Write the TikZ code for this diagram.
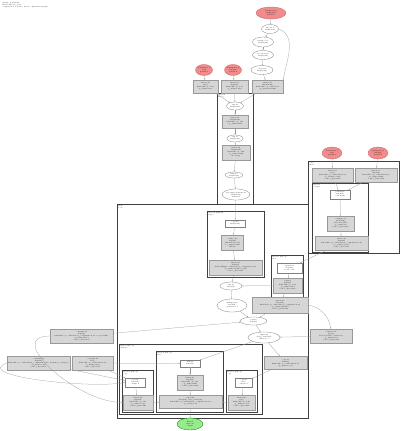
\documentclass[tikz,border=0pt]{standalone}
\usepackage{tikz}
\usetikzlibrary{arrows.meta,positioning,shapes.geometric}
\definecolor{pmfill}{RGB}{240,140,140}
\definecolor{pmline}{RGB}{205,92,92}
\definecolor{fufill}{RGB}{214,214,214}
\definecolor{rtfill}{RGB}{150,235,140}
\begin{document}
\begin{tikzpicture}[x=1pt,y=-1pt,
    every node/.style={font=\fontsize{1.6}{2}\selectfont, align=center, inner sep=0pt},
    pm/.style={ellipse, draw=pmline, fill=pmfill, line width=0.3pt},
    op/.style={ellipse, draw=gray, fill=white, line width=0.3pt},
    fu/.style={rectangle, draw=gray!80, fill=fufill, line width=0.3pt},
    wt/.style={rectangle, draw=gray, fill=white, line width=0.3pt},
    rt/.style={ellipse, draw=green!50!black, fill=rtfill, line width=0.3pt},
    cl/.style={draw=black!75, line width=0.7pt},
    cll/.style={anchor=north west, align=left, font=\fontsize{1.5}{1.9}\selectfont},
    ed/.style={-{Stealth[length=1.4pt,width=1.1pt]}, draw=gray!80, line width=0.25pt},
  ]
  \useasboundingbox (0,0) rectangle (400,431);
  \node[anchor=north west, align=left] (title) at (2,2) {cluster\_0 main.42\\HloModule jit\_step\\compiled for 1 device, fused computation graph};

  % clusters
  \draw[cl] (217,93) rectangle (253,204);
  \node[cll] (lc1) at (218,94) {fusion.9\\kLoop};
  \draw[cl] (117,204) rectangle (308,418);
  \node[cll] (lc2) at (118,205) {while\\body};
  \draw[cl] (207,211) rectangle (264,277);
  \node[cll] (lc3) at (208,212) {fusion.6 (kInput)\\reduce};
  \draw[cl] (271,255) rectangle (303,297);
  \node[cll] (lc4) at (272,256) {fusion.5 (kLoop)\\add};
  \draw[cl] (308,161) rectangle (399,253);
  \node[cll] (lc5) at (309,162) {cond\\while};
  \draw[cl] (312,183) rectangle (368,252);
  \node[cll] (lc6) at (313,184) {fusion.7\\compare};
  \draw[cl] (119,344) rectangle (262,414);
  \node[cll] (lc7) at (120,345) {tuple.3 (kLoop)\\outputs};
  \draw[cl] (122,370) rectangle (153,412);
  \node[cll] (lc8) at (123,371) {fusion.1 (kLoop)\\copy};
  \draw[cl] (156,351) rectangle (223,412);
  \node[cll] (lc9) at (157,352) {fusion.2 (kLoop)\\mul};
  \draw[cl] (226,370) rectangle (257,412);
  \node[cll] (lc10) at (227,371) {fusion.3 (kLoop)\\copy};

  % top chain
  \node[pm, minimum width=30, minimum height=12] (p0) at (271,13) {Parameter 0\\f32[64,256]\\param.0};
  \node[op, minimum width=17, minimum height=9] (e1) at (270,29) {bitcast.1\\f32[64,256]};
  \node[op, minimum width=21, minimum height=10] (e2) at (263,42) {transpose.2\\f32[256,64]};
  \node[op, minimum width=21, minimum height=9] (e3) at (263,55) {broadcast.3\\f32[256,64]};
  \node[op, minimum width=22, minimum height=9] (e4) at (262,70) {convert.4\\f32[256,64]};
  \node[pm, minimum width=17, minimum height=11] (r1) at (204,70) {Parameter 1\\s32[]\\param.1};
  \node[pm, minimum width=17, minimum height=11] (r2) at (233,70) {Parameter 2\\f32[256]\\param.2};
  \node[fu, minimum width=25, minimum height=13] (b1) at (205.5,86.5) {fusion.10\\s32[]\\kind=kLoop, f.10\\op\_name=iter};
  \node[fu, minimum width=27, minimum height=13] (b2) at (234.5,86.5) {fusion.11\\f32[256]\\kind=kLoop, f.11\\op\_name=bias};
  \node[fu, minimum width=31, minimum height=13] (b3) at (267.5,86.5) {fusion.12\\f32[256,64]\\kind=kLoop, calls=f.12\\op\_name=weight};

  % tall cluster
  \node[op, minimum width=17, minimum height=8] (t1) at (235,106) {add.13\\f32[256,64]};
  \node[fu, minimum width=26, minimum height=13] (t2) at (235,121.5) {fusion.14\\f32[256,64]\\kind=kLoop, f.14\\op\_name=mul};
  \node[op, minimum width=16, minimum height=7] (t3) at (235,138.5) {exp.15\\f32[256,64]};
  \node[fu, minimum width=28, minimum height=15] (t4) at (236,152.5) {fusion.16\\f32[256,64]\\kind=kLoop, f.16\\op\_name=tanh\\model.py};
  \node[op, minimum width=18, minimum height=6] (t5) at (234,175) {tanh.17\\f32[256,64]};
  \node[op, minimum width=28, minimum height=11] (t6) at (236,194.5) {get-tuple-element.18\\f32[256,64]\\index=0};

  % big cluster
  \node[wt, minimum width=20, minimum height=7] (w1) at (235,223.5) {copy.19\\f32[256,64]};
  \node[fu, minimum width=22, minimum height=15] (g1) at (232.5,242.5) {reduce.20\\f32[256]\\dimensions=\{1\}\\to\_apply=sum\\init=0};
  \node[fu, minimum width=53, minimum height=15] (g2) at (235.5,267.5) {fusion.22\\f32[256]\\kind=kInput, calls=fused\_computation.22\\op\_name=reduce\_sum\\source\_line=118};
  \node[wt, minimum width=25, minimum height=10] (w2) at (289.5,268) {param.23\\f32[256]\\from cond};
  \node[fu, minimum width=29, minimum height=15] (g3) at (287.5,285.5) {add.24\\f32[256]\\kind=kLoop, f.24\\op\_name=add\\source\_line=121};
  \node[op, minimum width=22, minimum height=8] (m1) at (231,286) {sub.25\\f32[256]};
  \node[op, minimum width=30, minimum height=13] (m2) at (232,305.5) {multiply.26\\f32[256]\\operand 0, 1};
  \node[fu, minimum width=56, minimum height=16] (g4) at (280,305) {fusion.27\\f32[256]\\kind=kLoop, calls=fused\_computation.27\\op\_name=update\\source\_line=124};
  \node[op, minimum width=27, minimum height=8] (m3) at (253.5,321) {add.28\\f32[256]};
  \node[op, minimum width=32, minimum height=11] (m4) at (264,337.5) {tuple.29\\(s32[], f32[256])\\index 0, 1};
  \node[fu, minimum width=43, minimum height=13] (g5) at (285.5,363) {copy.30\\f32[256]\\kind=kLoop, calls=fused.30\\op\_name=copy};
  \node[fu, minimum width=42, minimum height=14] (g6) at (331,336) {compare.31\\pred[]\\direction=LT, calls=f.31\\op\_name=less\\source\_line=130};

  % right cluster
  \node[pm, minimum width=20, minimum height=12] (rr1) at (332,153) {Parameter 3\\s32[]\\param.3};
  \node[pm, minimum width=20, minimum height=12] (rr2) at (378,153) {Parameter 4\\f32[256]\\param.4};
  \node[fu, minimum width=41, minimum height=14] (rb1) at (332.5,175) {fusion.32\\s32[]\\kind=kLoop, calls=fused.32\\op\_name=count\\source\_line=140};
  \node[fu, minimum width=42, minimum height=14] (rb2) at (376,175) {fusion.33\\f32[256]\\kind=kLoop, calls=fused.33\\op\_name=limit\\source\_line=141};
  \node[wt, minimum width=20, minimum height=9] (rw) at (340,194.5) {param.34\\f32[256]\\cond input};
  \node[fu, minimum width=27, minimum height=15] (rg1) at (340.5,223.5) {compare.35\\pred[256]\\direction=LT\\op\_name=lt\\source\_line=143};
  \node[fu, minimum width=53, minimum height=14] (rg2) at (341.5,243) {fusion.36\\f32[256]\\kind=kLoop, calls=fused\_computation.36\\op\_name=select\\source\_line=145};

  % left boxes
  \node[fu, minimum width=63, minimum height=14] (L1) at (81.5,336) {constant.37\\f32[256]\\kind=kLoop, calls=fused\_computation.37, scope=while\\op\_name=zeros\\source\_line=150};
  \node[fu, minimum width=63, minimum height=14] (L2) at (38.5,363) {constant.38\\f32[256]\\kind=kLoop, calls=fused\_computation.38, backend\_config=\{\}\\op\_name=ones\\source\_line=151};
  \node[fu, minimum width=41, minimum height=14] (L3) at (92.5,363) {constant.39\\s32[]\\kind=kLoop, calls=fused.39\\op\_name=step\\source\_line=152};

  % bottom cluster
  \node[wt, minimum width=20, minimum height=9] (lw) at (135,382.5) {copy.40\\f32[256]\\output 0};
  \node[fu, minimum width=30, minimum height=15] (lg) at (138,402.5) {fusion.41\\f32[256]\\kind=kLoop, f.41\\op\_name=copy\\source\_line=160};
  \node[wt, minimum width=20, minimum height=7] (mw) at (190,363.5) {mul.42\\f32[256]};
  \node[fu, minimum width=26, minimum height=15] (mg) at (190,382.5) {fusion.43\\f32[256]\\kind=kLoop, f.43\\op\_name=mul\\source\_line=162};
  \node[fu, minimum width=63, minimum height=13] (mwg) at (190.5,401.5) {tuple.44\\(f32[256], s32[], f32[256])\\kind=kLoop, calls=fused\_computation.44\\op\_name=out};
  \node[wt, minimum width=17, minimum height=9] (rw2) at (243.5,382.5) {copy.45\\s32[]\\output 1};
  \node[fu, minimum width=27, minimum height=15] (rg3) at (241.5,402.5) {fusion.46\\s32[]\\kind=kLoop, f.46\\op\_name=copy\\source\_line=165};
  \node[rt, minimum width=26, minimum height=12] (root) at (190,424) {ROOT\\tuple.47\\output};

  % edges
  \draw[ed] (p0) -- (e1);
  \draw[ed] (e1) -- (e2);
  \draw[ed] (e2) -- (e3);
  \draw[ed] (e3) -- (e4);
  \draw[ed] (e4) -- (b3);
  \draw[ed] (e1.east) to[out=-20,in=80] (b3.north east);
  \draw[ed] (r1) -- (b1);
  \draw[ed] (r2) -- (b2);
  \draw[ed] (b1) -- (t1);
  \draw[ed] (b2) -- (t1);
  \draw[ed] (b3) -- (t1);
  \draw[ed] (t1) -- (t2);
  \draw[ed] (t2) -- (t3);
  \draw[ed] (t3) -- (t4);
  \draw[ed] (t4) -- (t5);
  \draw[ed] (t5) -- (t6);
  \draw[ed] (t6) -- (w1);
  \draw[ed] (w1) -- (g1);
  \draw[ed] (g1) -- (g2);
  \draw[ed] (g2) -- (m1);
  \draw[ed] (m1) -- (m2);
  \draw[ed] (m2) -- (m3);
  \draw[ed] (m3) -- (m4);
  \draw[ed] (m4) -- (mw);
  \draw[ed] (rr1) -- (rb1);
  \draw[ed] (rr2) -- (rb2);
  \draw[ed] (rb1) -- (rw);
  \draw[ed] (rb2) -- (rw);
  \draw[ed] (rw) -- (rg1);
  \draw[ed] (rg1) -- (rg2);
  \draw[ed] (rg2) -- (w2);
  \draw[ed] (w2) -- (g3);
  \draw[ed] (g3) -- (g4);
  \draw[ed] (g3) -- (m1);
  \draw[ed] (g4) -- (m3);
  \draw[ed] (g4.east) to[out=-10,in=100] (g6.north);
  \draw[ed] (g6) -- (m4);
  \draw[ed] (m4) -- (g5);
  \draw[ed] (g5) -- (rw2);
  \draw[ed] (L1) -- (m3);
  \draw[ed] (L1.west) to[out=180,in=180,looseness=1.2] (lg.west);
  \draw[ed] (L2) -- (lw);
  \draw[ed] (L3) -- (lw);
  \draw[ed] (L2.west) to[out=200,in=190,looseness=0.8] (lw.west);
  \draw[ed] (L3) -- (mw);
  \draw[ed] (lw) -- (lg);
  \draw[ed] (mw) -- (mg);
  \draw[ed] (mg) -- (mwg);
  \draw[ed] (rw2) -- (rg3);
  \draw[ed] (lg) -- (mwg);
  \draw[ed] (rg3) -- (mwg);
  \draw[ed] (mwg) -- (root);
\end{tikzpicture}
\end{document}
